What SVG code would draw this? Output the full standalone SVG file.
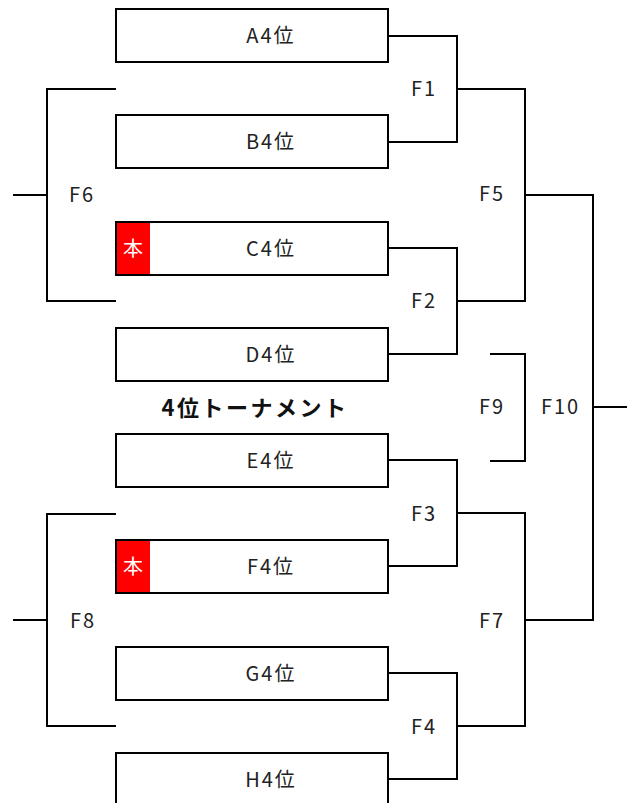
<svg xmlns="http://www.w3.org/2000/svg" width="627" height="803" viewBox="0 0 627 803">
<style>
.box{fill:#fff;stroke:#000;stroke-width:2}
.ln{fill:none;stroke:#000;stroke-width:2}
.t{font-family:"Noto Sans CJK JP","Noto Sans",sans-serif;font-size:20px;letter-spacing:2px;fill:#222;text-anchor:middle;dominant-baseline:central}
.title{font-size:22px;letter-spacing:2.5px;font-weight:bold;fill:#111}
.badge{fill:#f00}
.bt{font-family:"Noto Sans CJK JP",sans-serif;font-size:20px;fill:#fff;text-anchor:middle;dominant-baseline:central}
</style>
<rect width="627" height="803" fill="#fff"/>
<g id="connectors">
<path class="ln" d="M388 36H457V142H388"/>
<path class="ln" d="M388 248H457V354H388"/>
<path class="ln" d="M388 460H457V566H388"/>
<path class="ln" d="M388 673H457V779H388"/>
<path class="ln" d="M457 89H525V301H457"/>
<path class="ln" d="M457 513H525V726H457"/>
<path class="ln" d="M525 195H593V620H525"/>
<path class="ln" d="M593 407H627"/>
<path class="ln" d="M490 354H525V461H490"/>
<path class="ln" d="M116 89H47V301H116"/>
<path class="ln" d="M13 195H47"/>
<path class="ln" d="M116 514H47V726H116"/>
<path class="ln" d="M13 620H47"/>
</g>
<g id="A"><rect class="box" x="116" y="9" width="272" height="53"/><text class="t" x="271" y="34">A4位</text></g>
<g id="B"><rect class="box" x="116" y="115" width="272" height="53"/><text class="t" x="271" y="140">B4位</text></g>
<g id="C"><rect class="box" x="116" y="222" width="272" height="53"/><rect class="badge" x="117" y="223" width="33" height="51"/><text class="bt" x="133" y="247">本</text><text class="t" x="271" y="247">C4位</text></g>
<g id="D"><rect class="box" x="116" y="328" width="272" height="53"/><text class="t" x="271" y="353">D4位</text></g>
<g id="E"><rect class="box" x="116" y="434" width="272" height="53"/><text class="t" x="271" y="459">E4位</text></g>
<g id="F"><rect class="box" x="116" y="540" width="272" height="53"/><rect class="badge" x="117" y="541" width="33" height="51"/><text class="bt" x="133" y="565">本</text><text class="t" x="271" y="565">F4位</text></g>
<g id="G"><rect class="box" x="116" y="647" width="272" height="53"/><text class="t" x="271" y="672">G4位</text></g>
<g id="H"><rect class="box" x="116" y="753" width="272" height="53"/><text class="t" x="271" y="778">H4位</text></g>
<g id="labels">
<text class="t" x="424" y="87">F1</text>
<text class="t" x="424" y="299.5">F2</text>
<text class="t" x="424" y="512">F3</text>
<text class="t" x="424" y="725">F4</text>
<text class="t" x="492" y="192.5">F5</text>
<text class="t" x="82" y="193.5">F6</text>
<text class="t" x="492" y="619">F7</text>
<text class="t" x="83" y="619">F8</text>
<text class="t" x="492" y="405.5">F9</text>
<text class="t" x="560.5" y="405.5">F10</text>
<text class="t title" x="255" y="406">4位トーナメント</text>
</g>
</svg>
